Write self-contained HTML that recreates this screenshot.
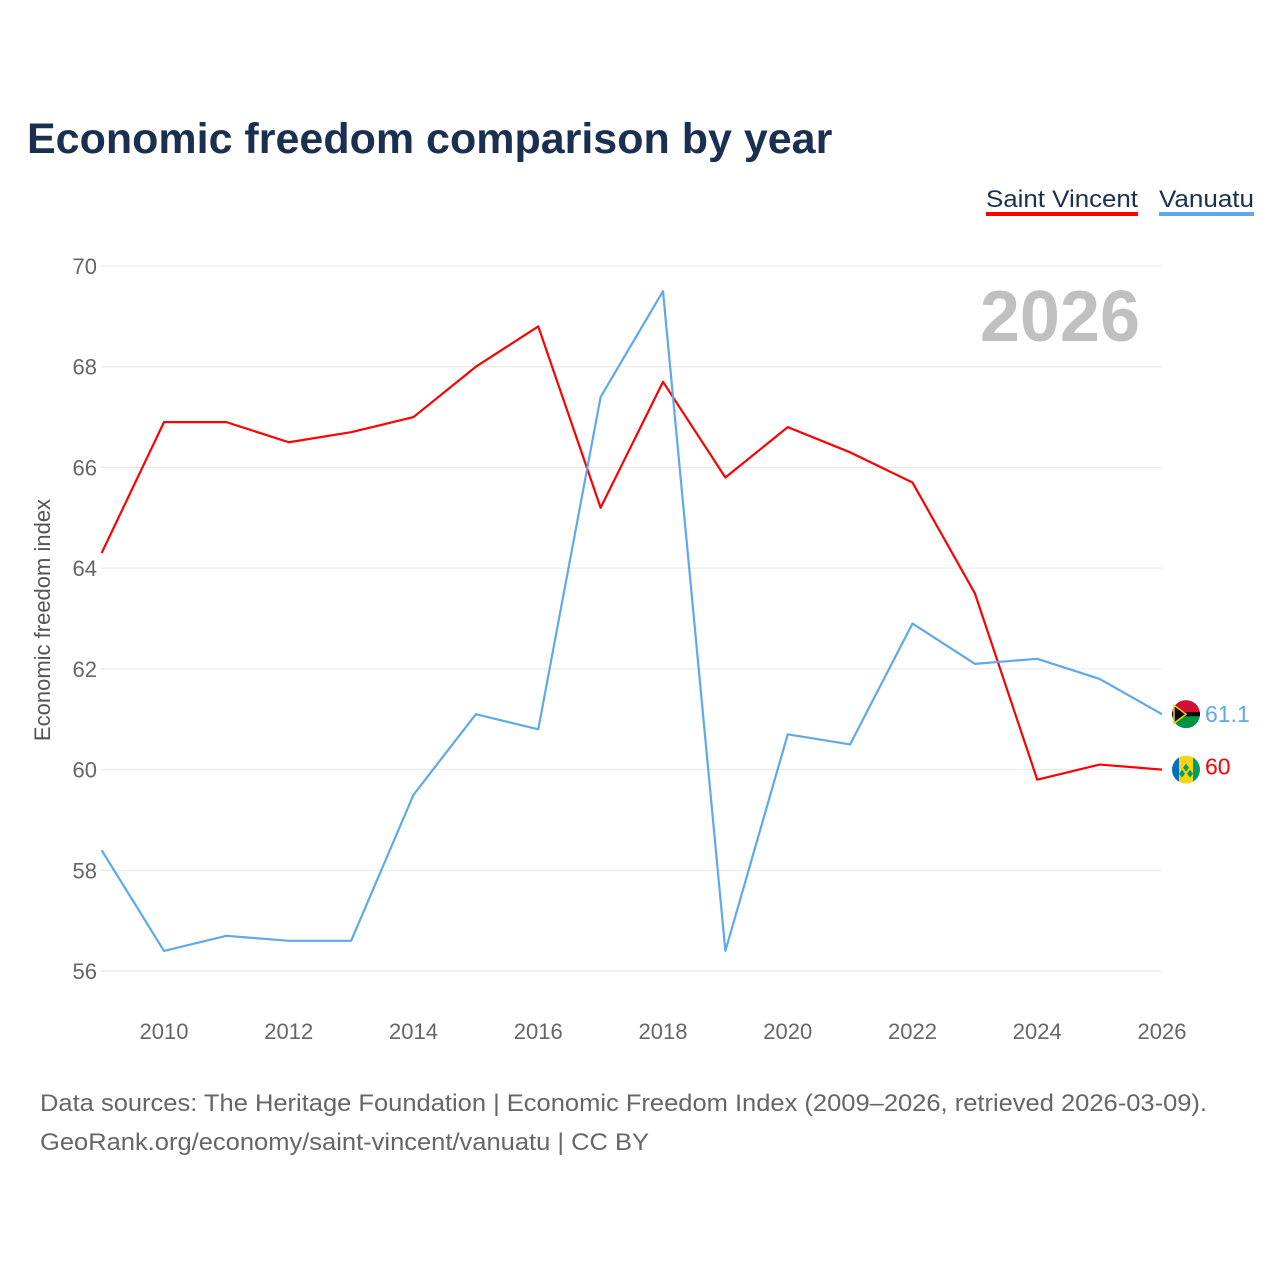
<!DOCTYPE html>
<html><head><meta charset="utf-8"><style>
body{margin:0;background:#fff;font-family:"Liberation Sans",sans-serif}
</style></head><body>
<svg id="chart" width="1280" height="1280" xmlns="http://www.w3.org/2000/svg" font-family="Liberation Sans, sans-serif">
<text x="27" y="153" font-size="43" font-weight="bold" fill="#1b3050">Economic freedom comparison by year</text>
<g>
<text x="986" y="207" font-size="24" fill="#1b3050" textLength="152" lengthAdjust="spacingAndGlyphs">Saint Vincent</text>
<rect x="986" y="212" width="152" height="4" fill="#ff0000"/>
<text x="1159" y="207" font-size="24" fill="#1b3050" textLength="95" lengthAdjust="spacingAndGlyphs">Vanuatu</text>
<rect x="1159" y="212" width="95" height="4" fill="#5ea8ec"/>
</g>
<text x="1140" y="341" font-size="72" font-weight="bold" fill="#c0c0c0" text-anchor="end">2026</text>
<text transform="translate(50,620) rotate(-90)" font-size="22" fill="#555" text-anchor="middle">Economic freedom index</text>
<g id="grid"></g><g id="marks"></g>
<text x="40" y="1111" font-size="24" fill="#666" textLength="1167" lengthAdjust="spacingAndGlyphs">Data sources: The Heritage Foundation | Economic Freedom Index (2009–2026, retrieved 2026-03-09).</text>
<text x="40" y="1150" font-size="24" fill="#666" textLength="609" lengthAdjust="spacingAndGlyphs">GeoRank.org/economy/saint-vincent/vanuatu | CC BY</text>
</svg>
<script>
const years=[2009,2010,2011,2012,2013,2014,2015,2016,2017,2018,2019,2020,2021,2022,2023,2024,2025,2026];
const saintVincent=[64.3,66.9,66.9,66.5,66.7,67.0,68.0,68.8,65.2,67.7,65.8,66.8,66.3,65.7,63.5,59.8,60.1,60.0];
const vanuatu=[58.4,56.4,56.7,56.6,56.6,59.5,61.1,60.8,67.4,69.5,56.4,60.7,60.5,62.9,62.1,62.2,61.8,61.1];
const yTicks=[56,58,60,62,64,66,68,70];
const xTicks=[2010,2012,2014,2016,2018,2020,2022,2024,2026];
const NS="http://www.w3.org/2000/svg";
const x=v=>164+(v-2010)*62.375;
const y=v=>266+(70-v)*50.36;
function mk(tag,attrs,parent,txt){const e=document.createElementNS(NS,tag);for(const k in attrs)e.setAttribute(k,attrs[k]);if(txt!==undefined)e.textContent=txt;parent.appendChild(e);return e;}
const grid=document.getElementById('grid'),marks=document.getElementById('marks');
yTicks.forEach(t=>{
 const l=mk('line',{x1:101,x2:1162,y1:y(t),y2:y(t),stroke:'#e6e6e6','stroke-width':1},grid);
 
 
 const tx=mk('text',{x:97,y:y(t)+8,'font-size':22,fill:'#666','text-anchor':'end'},grid,String(t));
 
 
});
xTicks.forEach(t=>{
 const tx=mk('text',{x:x(t),y:1039,'font-size':22,fill:'#666','text-anchor':'middle'},grid,String(t));
 
 
});
function line(vals,color,name){
 const p=mk('polyline',{points:vals.map((v,i)=>x(years[i])+','+y(v)).join(' '),fill:'none',stroke:color,'stroke-width':2.2,'stroke-linejoin':'round'},marks);
 
 
}
line(saintVincent,'#ff0000','saint-vincent-line');
line(vanuatu,'#5ea8ec','vanuatu-line');
const last=years.length-1;
const vy=y(vanuatu[last]), sy=y(saintVincent[last]);
const f1=mk('g',{},marks);


mk('circle',{cx:1186,cy:vy,r:14,fill:'#009543'},f1);
mk('path',{d:`M1172 ${vy} A14 14 0 0 1 1200 ${vy} Z`,fill:'#d21034'},f1);
mk('rect',{x:1172,y:vy-2,width:28,height:4,fill:'#000'},f1);
mk('path',{d:`M1174 ${vy-9} L1186 ${vy} L1174 ${vy+9} Z`,fill:'#000',stroke:'#fdce12','stroke-width':1.5},f1);
const t1=mk('text',{x:1205,y:vy+8,'font-size':23,fill:'#5ea8ec'},marks,String(vanuatu[last]));


const f2=mk('g',{},marks);


mk('clipPath',{id:'c2'},f2).appendChild((()=>{const c=document.createElementNS(NS,'circle');c.setAttribute('cx',1186);c.setAttribute('cy',sy);c.setAttribute('r',14);return c;})());
mk('rect',{x:1172,y:sy-14,width:7,height:28,fill:'#0072c6','clip-path':'url(#c2)'},f2);
mk('rect',{x:1179,y:sy-14,width:14,height:28,fill:'#fcd116','clip-path':'url(#c2)'},f2);
mk('rect',{x:1193,y:sy-14,width:7,height:28,fill:'#009e60','clip-path':'url(#c2)'},f2);
mk('path',{d:`M1186 ${sy-6} l3 4 l-3 4 l-3 -4z M1182 ${sy} l3 4 l-3 4 l-3 -4z M1190 ${sy} l3 4 l-3 4 l-3 -4z`,fill:'#009e60'},f2);
const t2=mk('text',{x:1205,y:sy+5,'font-size':23,fill:'#ff0000'},marks,String(saintVincent[last]));


</script>
</body></html>
